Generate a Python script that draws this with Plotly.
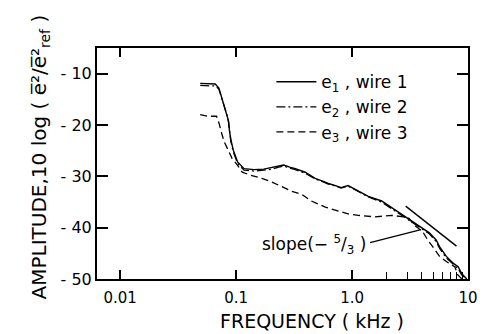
import plotly.graph_objects as go
import math

# ---- data ----
freq_12 = [0.049, 0.056, 0.066, 0.071, 0.075, 0.079, 0.083, 0.086, 0.0875, 0.090, 0.0945,
           0.103, 0.117, 0.143, 0.173, 0.205, 0.233, 0.257, 0.29, 0.324, 0.394, 0.48,
           0.55, 0.624, 0.72, 0.805, 0.924, 1.13, 1.38, 1.80, 2.37, 3.10, 3.67, 4.64,
           5.31, 5.68, 6.50, 7.43, 8.22, 8.81, 9.75]
e1_wire1 = [-11.9, -11.9, -12.0, -12.8, -14.5, -16.5, -17.8, -19.2, -21.0, -22.8, -24.9,
            -27.2, -28.5, -28.7, -28.6, -28.3, -28.0, -27.8, -28.2, -28.5, -29.2, -30.4,
            -30.9, -31.4, -31.8, -32.2, -31.8, -32.9, -33.9, -34.8, -36.6, -38.2, -39.4,
            -41.0, -42.4, -43.7, -45.6, -46.9, -47.6, -48.9, -50.0]
e2_wire2 = [-12.3, -12.3, -12.4, -13.0, -14.6, -16.4, -17.9, -19.5, -21.4, -23.2, -25.2,
            -27.5, -28.8, -29.0, -28.8, -28.6, -28.2, -28.0, -28.4, -28.7, -29.4, -30.5,
            -31.0, -31.5, -31.9, -32.3, -31.9, -33.0, -34.0, -35.0, -36.8, -38.4, -39.6,
            -41.2, -42.7, -44.0, -45.9, -47.2, -48.0, -49.2, -50.0]
freq_3 = [0.049, 0.0567, 0.0678, 0.0713, 0.075, 0.079, 0.0854, 0.0922, 0.1026, 0.113,
          0.134, 0.167, 0.203, 0.247, 0.301, 0.367, 0.446, 0.588, 0.716, 0.924, 1.13,
          1.58, 2.20, 2.80, 3.10, 3.43, 4.05, 4.49, 4.96, 5.68, 6.50, 7.69, 8.17, 8.86]
e3_wire3 = [-18.0, -18.3, -18.3, -19.7, -21.6, -23.3, -24.9, -26.5, -27.8, -29.2,
            -29.8, -30.4, -31.1, -32.0, -32.9, -33.5, -34.8, -36.0, -36.6, -37.3, -37.6,
            -37.9, -37.6, -37.9, -38.2, -39.5, -40.7, -42.4, -43.7, -45.6, -46.6, -47.6, -49.2, -50.0]

slope_freq = [2.9, 7.96]
slope_amp = [-35.8, -43.6]
leader_freq = [1.43, 3.93]
leader_amp = [-42.9, -40.4]

y_tickvals = [-10, -20, -30, -40, -50]
y_ticktext = ["- 10", "- 20", "- 30", "- 40", "- 50"]
x_tickvals = [0.01, 0.1, 1.0, 10]
x_ticktext = ["0.01", "0.1", "1.0", "10"]
x_minor_vals = [2, 3, 4, 5, 6, 7, 8, 9]

FONT = "DejaVu Sans"
BLACK = "#000000"

fig = go.Figure()
fig.add_trace(go.Scatter(x=freq_12, y=e1_wire1, mode="lines", name="e<sub>1</sub> , wire 1",
                         line=dict(color=BLACK, width=1.4)))
fig.add_trace(go.Scatter(x=freq_12, y=e2_wire2, mode="lines", name="e<sub>2</sub> , wire 2",
                         line=dict(color=BLACK, width=1.3, dash="9px,3px,2px,3px")))
fig.add_trace(go.Scatter(x=freq_3, y=e3_wire3, mode="lines", name="e<sub>3</sub> , wire 3",
                         line=dict(color=BLACK, width=1.3, dash="7px,4px")))
fig.add_trace(go.Scatter(x=slope_freq, y=slope_amp, mode="lines", showlegend=False,
                         xaxis="x2", line=dict(color=BLACK, width=1.4)))
fig.add_trace(go.Scatter(x=leader_freq, y=leader_amp, mode="lines", showlegend=False,
                         line=dict(color=BLACK, width=1.3)))

xr = [-2.2, 1.0]
fig.update_layout(
    width=490, height=334,
    margin=dict(l=97, r=12, t=48, b=55),
    paper_bgcolor="white", plot_bgcolor="white",
    font=dict(family=FONT, color=BLACK, size=15),
    xaxis=dict(type="log", range=xr, tickmode="array", tickvals=x_tickvals, ticktext=x_ticktext,
               ticks="inside", ticklen=9, tickwidth=1.5, tickcolor=BLACK,
               showline=True, linewidth=2, linecolor=BLACK, mirror="ticks",
               showgrid=False, zeroline=False, tickfont=dict(size=15),
               ticklabelstandoff=4),
    xaxis2=dict(type="log", range=xr, overlaying="x", anchor="y", side="bottom",
                tickmode="array", tickvals=x_minor_vals, showticklabels=False,
                ticks="inside", ticklen=7, tickwidth=1.3, tickcolor=BLACK,
                showline=False, showgrid=False, zeroline=False),
    yaxis=dict(range=[-50, -5], tickmode="array", tickvals=y_tickvals, ticktext=y_ticktext,
               ticks="inside", ticklen=11, tickwidth=1.5, tickcolor=BLACK,
               showline=True, linewidth=2, linecolor=BLACK, mirror="ticks",
               showgrid=False, zeroline=False, tickfont=dict(size=16),
               ticklabelstandoff=0),
    showlegend=True,
    legend=dict(x=0.47, y=0.93, xanchor="left", yanchor="top", bgcolor="rgba(0,0,0,0)",
                font=dict(size=17, family=FONT), tracegroupgap=0, itemwidth=40),
)

fig.add_annotation(text="slope(− <sup>5</sup>/<sub>3</sub> )", x=math.log10(1.38), y=-43.2,
                   xref="x", yref="y", xanchor="right", yanchor="middle", showarrow=False,
                   font=dict(size=17, family=FONT, color=BLACK))
fig.add_annotation(text="FREQUENCY ( kHz )", x=0.58, y=-0.18, xref="paper", yref="paper",
                   xanchor="center", yanchor="middle", showarrow=False,
                   font=dict(size=19, family=FONT, color=BLACK))
fig.add_annotation(text="AMPLITUDE,10 log ( e\u0305\u00b2/e\u0305\u00b2<sub>ref</sub> )",
                   x=-0.154, y=0.53, xref="paper", yref="paper", textangle=-90,
                   xanchor="center", yanchor="middle", showarrow=False,
                   font=dict(size=20, family=FONT, color=BLACK))

fig.write_html("out.html")
